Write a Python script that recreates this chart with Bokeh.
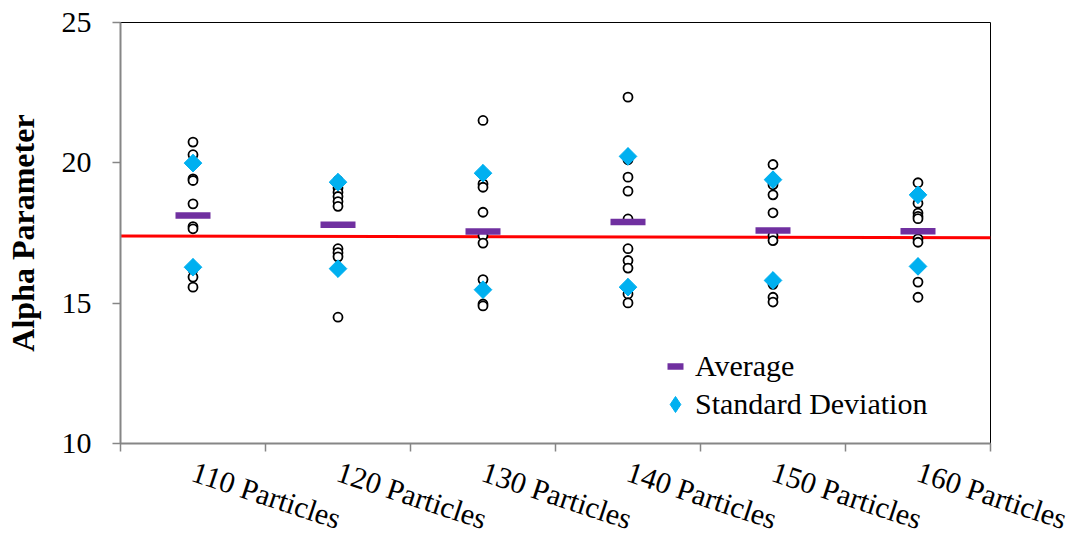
import numpy as np
from bokeh.plotting import figure
from bokeh.models import Range1d, FixedTicker, Legend, LegendItem, ColumnDataSource
from bokeh.embed import file_html
from bokeh.resources import INLINE

# ---- data ----
categories = ["110 Particles", "120 Particles", "130 Particles",
              "140 Particles", "150 Particles", "160 Particles"]
p110 = [20.74, 20.29, 19.43, 19.37, 18.54, 17.73, 17.65, 16.20, 15.93, 15.57]
p120 = [19.37, 19.10, 18.95, 18.80, 18.62, 18.45, 16.94, 16.80, 16.65, 14.50]
p130 = [21.51, 19.25, 19.13, 18.24, 17.41, 17.14, 15.84, 14.97, 14.90]
p140 = [22.34, 20.11, 19.49, 18.99, 18.00, 16.94, 16.52, 16.25, 15.33, 15.01]
p150 = [19.94, 19.31, 19.22, 18.86, 18.22, 17.41, 17.23, 15.67, 15.21, 15.04]
p160 = [19.29, 18.56, 18.21, 18.09, 18.01, 17.29, 17.17, 15.75, 15.21]
averages = [18.12, 17.79, 17.55, 17.89, 17.59, 17.56]
std_upper = [19.99, 19.31, 19.63, 20.23, 19.40, 18.86]
std_lower = [16.28, 16.23, 15.48, 15.57, 15.81, 16.31]
trend_values = [17.39, 17.33]   # red line at left and right edge
y_ticks = [10, 15, 20, 25]

samples = [p110, p120, p130, p140, p150, p160]

FONT = "Liberation Serif"
PURPLE = "#7030A0"
CYAN = "#00B0F0"
AXIS_GRAY = "#868686"

n = len(categories)
centers = [i + 0.5 for i in range(n)]

p = figure(width=1082, height=555, output_backend="svg", toolbar_location=None,
           x_range=Range1d(0, n), y_range=Range1d(10, 25),
           min_border_left=120, min_border_right=92, min_border_top=22,
           min_border_bottom=112)
p.background_fill_color = "white"
p.border_fill_color = "white"
p.outline_line_color = "black"
p.outline_line_width = 1
p.xgrid.visible = False
p.ygrid.visible = False

# red reference line
p.line(x=[0, n], y=trend_values, line_color="#FF0000", line_width=3)

# sample points
xs, ys = [], []
for c, vals in zip(centers, samples):
    xs += [c] * len(vals)
    ys += vals
p.scatter(x=xs, y=ys, marker="circle", size=9, fill_color="white",
          line_color="black", line_width=1.8)

# average
avg_r = p.scatter(x=centers, y=averages, marker="dash", size=35,
                  line_color=PURPLE, line_width=6.5)

# standard deviation diamonds
std_src = ColumnDataSource(dict(x=centers + centers, y=std_upper + std_lower))
std_leg_r = p.scatter(x="x", y="y", source=std_src, marker="diamond", size=17,
                      fill_color=CYAN, line_color=CYAN, line_width=1)
p.scatter(x="x", y="y", source=std_src, marker="square", angle=np.pi / 4,
          size=12.5, fill_color=CYAN, line_color=CYAN, line_width=1)

# x axis
xa = p.xaxis[0]
xa.ticker = FixedTicker(ticks=centers, minor_ticks=list(range(n + 1)))
xa.major_label_overrides = {c: lab for c, lab in zip(centers, categories)}
xa.major_tick_line_color = None
xa.major_tick_in = 0
xa.major_tick_out = 0
xa.minor_tick_in = 0
xa.minor_tick_out = 8
xa.minor_tick_line_color = AXIS_GRAY
xa.minor_tick_line_width = 1.5
xa.axis_line_color = AXIS_GRAY
xa.axis_line_width = 2
xa.major_label_orientation = -0.32
xa.major_label_standoff = 19
xa.major_label_text_font = FONT
xa.major_label_text_font_size = "30px"
xa.major_label_text_color = "black"

# y axis
ya = p.yaxis[0]
ya.ticker = FixedTicker(ticks=y_ticks)
ya.major_tick_in = 0
ya.major_tick_out = 8
ya.minor_tick_line_color = None
ya.major_tick_line_color = AXIS_GRAY
ya.major_tick_line_width = 1.5
ya.axis_line_color = AXIS_GRAY
ya.axis_line_width = 2
ya.major_label_standoff = 21
ya.major_label_text_font = FONT
ya.major_label_text_font_size = "30px"
ya.major_label_text_color = "black"
ya.axis_label = "Alpha Parameter"
ya.axis_label_text_font = FONT
ya.axis_label_text_font_size = "32px"
ya.axis_label_text_font_style = "bold"
ya.axis_label_text_color = "black"
ya.axis_label_standoff = 18

# legends
def make_legend(item, gw, loc, standoff):
    lg = Legend(items=[item], location=loc, glyph_width=gw, glyph_height=gw,
                label_standoff=standoff, padding=0, margin=0, spacing=0,
                label_text_font=FONT, label_text_font_size="30px",
                label_text_color="black", background_fill_alpha=0,
                border_line_alpha=0)
    p.add_layout(lg)
    return lg

make_legend(LegendItem(label="Average", renderers=[avg_r]), 40, (535, 57), 0)
make_legend(LegendItem(label="Standard Deviation", renderers=[std_leg_r]), 40, (535, 19), 0)

open("out.html", "w").write(file_html(p, INLINE))
